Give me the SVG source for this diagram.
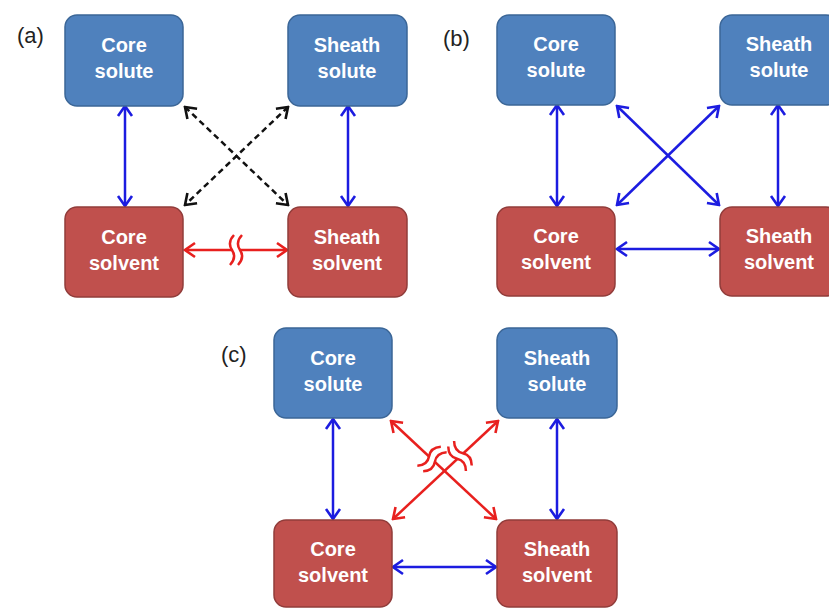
<svg xmlns="http://www.w3.org/2000/svg" width="829" height="608" viewBox="0 0 829 608">
<style>
.blue{fill:#4f81bd;stroke:#3b6697;stroke-width:1.5}
.red{fill:#c0504d;stroke:#913c3a;stroke-width:1.5}
.t{font-family:"Liberation Sans",Arial,sans-serif;font-weight:bold;font-size:20px;fill:#fff;text-anchor:middle}
.lbl{font-family:"Liberation Sans",Arial,sans-serif;font-size:22px;fill:#222}
.cb{stroke:#1c1ce0;stroke-width:2.5;fill:none;marker-start:url(#mb);marker-end:url(#mb)}
.cr{stroke:#e8201e;stroke-width:2.5;fill:none;marker-start:url(#mr);marker-end:url(#mr)}
.ck{stroke:#111;stroke-width:2.5;fill:none;stroke-dasharray:6 4;marker-start:url(#mk);marker-end:url(#mk)}
.brk{stroke:#e8201e;stroke-width:2.5;fill:none}
.gap{stroke:#fff;stroke-width:5}
</style>
<defs>
<marker id="mb" viewBox="-12 -9 14 18" refX="0" refY="0" markerWidth="14" markerHeight="18" markerUnits="userSpaceOnUse" orient="auto-start-reverse"><path d="M-10,-7 L0,0 L-10,7" fill="none" stroke="#1c1ce0" stroke-width="2.6"/></marker>
<marker id="mr" viewBox="-12 -9 14 18" refX="0" refY="0" markerWidth="14" markerHeight="18" markerUnits="userSpaceOnUse" orient="auto-start-reverse"><path d="M-10,-7 L0,0 L-10,7" fill="none" stroke="#e8201e" stroke-width="2.6"/></marker>
<marker id="mk" viewBox="-12 -9 14 18" refX="0" refY="0" markerWidth="14" markerHeight="18" markerUnits="userSpaceOnUse" orient="auto-start-reverse"><path d="M-10,-7 L0,0 L-10,7" fill="none" stroke="#111" stroke-width="2.6"/></marker>
<g id="breaksym">
<line class="gap" x1="-4" y1="0" x2="4" y2="0"/>
<path class="brk" d="M-2,-15 Q-9,-7.5 -4,0 Q1,7.5 -6,15"/>
<path class="brk" d="M6,-15 Q-1,-7.5 4,0 Q9,7.5 2,15"/>
</g>
</defs>
<rect width="829" height="608" fill="#fff"/>

<text class="lbl" x="17" y="43">(a)</text>
<text class="lbl" x="443" y="46">(b)</text>
<text class="lbl" x="221" y="362">(c)</text>

<g id="connectors">
<!-- panel a -->
<line class="cb" x1="125" y1="106" x2="125" y2="206"/>
<line class="cb" x1="348" y1="106" x2="348" y2="206"/>
<line class="ck" x1="185" y1="107" x2="288" y2="205"/>
<line class="ck" x1="288" y1="107" x2="185" y2="205"/>
<line class="cr" x1="185" y1="250" x2="287" y2="250"/>
<use href="#breaksym" transform="translate(236,250)"/>
<!-- panel b -->
<line class="cb" x1="557" y1="105" x2="557" y2="206"/>
<line class="cb" x1="778" y1="105" x2="778" y2="206"/>
<line class="cb" x1="617" y1="106" x2="719" y2="205"/>
<line class="cb" x1="719" y1="106" x2="617" y2="205"/>
<line class="cb" x1="617" y1="249" x2="719" y2="249"/>
<!-- panel c -->
<line class="cb" x1="333" y1="419" x2="333" y2="519"/>
<line class="cb" x1="557" y1="419" x2="557" y2="519"/>
<line class="cb" x1="393" y1="567" x2="496" y2="567"/>
<line class="cr" x1="391" y1="421" x2="496" y2="519"/>
<line class="cr" x1="498" y1="421" x2="393" y2="519"/>
<use href="#breaksym" transform="translate(432,459) rotate(43.3)"/>
<use href="#breaksym" transform="translate(460,456) rotate(-43.3)"/>
</g>

<g id="a-core-solute"><rect class="blue" x="65" y="15" width="118" height="91" rx="12"/><text class="t" x="124" y="52">Core</text><text class="t" x="124" y="78">solute</text></g>
<g id="a-sheath-solute"><rect class="blue" x="288" y="15" width="119" height="91" rx="12"/><text class="t" x="347" y="52">Sheath</text><text class="t" x="347" y="78">solute</text></g>
<g id="a-core-solvent"><rect class="red" x="65" y="207" width="118" height="90" rx="12"/><text class="t" x="124" y="244">Core</text><text class="t" x="124" y="270">solvent</text></g>
<g id="a-sheath-solvent"><rect class="red" x="288" y="207" width="119" height="90" rx="12"/><text class="t" x="347" y="244">Sheath</text><text class="t" x="347" y="270">solvent</text></g>

<g id="b-core-solute"><rect class="blue" x="497" y="15" width="118" height="90" rx="12"/><text class="t" x="556" y="51">Core</text><text class="t" x="556" y="77">solute</text></g>
<g id="b-sheath-solute"><rect class="blue" x="720" y="15" width="118" height="90" rx="12"/><text class="t" x="779" y="51">Sheath</text><text class="t" x="779" y="77">solute</text></g>
<g id="b-core-solvent"><rect class="red" x="497" y="207" width="118" height="89" rx="12"/><text class="t" x="556" y="243">Core</text><text class="t" x="556" y="269">solvent</text></g>
<g id="b-sheath-solvent"><rect class="red" x="720" y="207" width="118" height="89" rx="12"/><text class="t" x="779" y="243">Sheath</text><text class="t" x="779" y="269">solvent</text></g>

<g id="c-core-solute"><rect class="blue" x="274" y="328" width="118" height="90" rx="12"/><text class="t" x="333" y="365">Core</text><text class="t" x="333" y="391">solute</text></g>
<g id="c-sheath-solute"><rect class="blue" x="497" y="328" width="120" height="90" rx="12"/><text class="t" x="557" y="365">Sheath</text><text class="t" x="557" y="391">solute</text></g>
<g id="c-core-solvent"><rect class="red" x="274" y="520" width="118" height="87" rx="12"/><text class="t" x="333" y="556">Core</text><text class="t" x="333" y="582">solvent</text></g>
<g id="c-sheath-solvent"><rect class="red" x="497" y="520" width="120" height="87" rx="12"/><text class="t" x="557" y="556">Sheath</text><text class="t" x="557" y="582">solvent</text></g>
</svg>
